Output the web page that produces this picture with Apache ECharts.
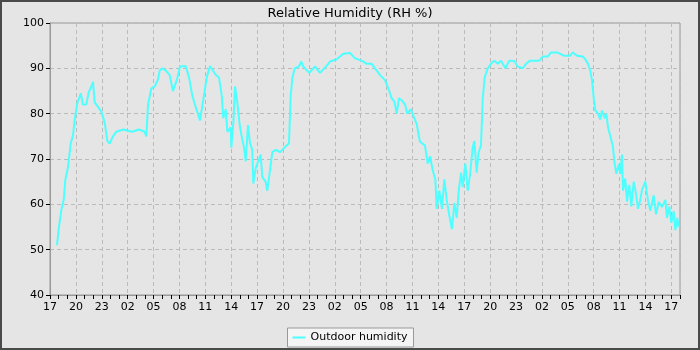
<!DOCTYPE html>
<html>
<head>
<meta charset="utf-8">
<script src="https://cdn.jsdelivr.net/npm/echarts@6/dist/echarts.min.js"></script>
<style>
  html, body { margin: 0; padding: 0; background: #e5e5e5; }
  #chart { width: 700px; height: 350px; }
</style>
</head>
<body>
<div id="chart"></div>
<script>
// hours since 17:00 on the first day
var hours = [0.81, 1.04, 1.31, 1.59, 1.77, 2.09, 2.40, 2.67, 2.86, 3.16, 3.56, 3.82, 4.21, 4.48, 4.79, 4.98,
  5.18, 5.56, 5.94, 6.34, 6.64, 6.92, 7.30, 7.68, 8.5, 9.5, 10.3, 10.97, 11.16, 11.36, 11.74, 12.13,
  12.51, 12.71, 12.98, 13.44, 13.87, 14.25, 14.37, 14.75, 15.06, 15.72, 16.11, 16.49, 16.88, 17.38,
  17.76, 18.16, 18.54, 19.20, 19.58, 19.90, 20.08, 20.36, 20.55, 20.94, 21.01, 21.24, 21.44, 21.70,
  21.98, 22.21, 22.48, 22.68, 22.94, 23.17, 23.44, 23.56, 23.84, 24.22, 24.41, 24.60, 24.99, 25.18,
  25.49, 25.76, 26.15, 26.65, 26.92, 27.31, 27.69, 27.89, 28.08, 28.35, 28.85, 29.12, 29.35, 30.05,
  30.71, 31.29, 31.98, 32.45, 33.22, 33.99, 34.76, 35.34, 36.12, 36.70, 37.28, 37.66, 38.24, 38.82,
  39.20, 39.59, 39.90, 40.17, 40.44, 40.75, 41.14, 41.40, 41.80, 42.10, 42.49, 42.87, 43.45, 43.77,
  44.03, 44.35, 44.65, 44.81, 45.11, 45.42, 45.69, 45.97, 46.27, 46.58, 46.85, 47.13, 47.36, 47.63,
  47.82, 48.12, 48.40, 48.67, 48.98, 49.17, 49.44, 49.67, 49.94, 50.14, 50.37, 50.72, 51.10, 51.48,
  51.88, 52.26, 52.76, 53.22, 53.80, 54.19, 54.77, 55.16, 55.62, 56.70, 57.09, 57.67, 58.05, 58.75,
  59.53, 60.29, 60.57, 61.07, 61.73, 62.03, 62.34, 62.61, 62.80, 63.00, 63.19, 63.50, 63.77, 63.96,
  64.28, 64.46, 64.66, 64.93, 65.20, 65.43, 65.62, 65.90, 66.08, 66.28, 66.40, 66.66, 66.86, 67.13,
  67.36, 67.64, 67.90, 68.13, 68.40, 68.60, 68.98, 69.26, 69.56, 69.95, 70.22, 70.53, 70.92, 71.30,
  71.49, 71.76, 71.99, 72.27, 72.46, 72.69, 72.85];

var humidity = [51, 55, 58.7, 61, 65.3, 68.3, 73.4, 75.3, 78.6, 82.3, 84.5, 82, 82, 84.7, 86, 87,
  82.5, 81.5, 80.5, 78, 74, 73.4, 75, 76, 76.5, 76, 76.5, 76, 75, 82, 85.6, 86,
  87.5, 89.5, 90, 89.5, 88.5, 85, 84.7, 87.8, 90.4, 90.5, 88, 84, 81.5, 78.5,
  83, 88, 90.5, 88.6, 88, 84, 79, 81, 76, 77, 72.5, 78, 86, 82.5,
  77.5, 75, 72.5, 69.5, 77.5, 73.5, 72, 64.6, 68, 70, 71, 66, 65, 63,
  67.5, 71.5, 72, 71.5, 72, 72.8, 73.4, 84, 87.8, 90, 90.4, 91.5, 90.4, 89,
  90.4, 89, 90.4, 91.5, 92, 93.2, 93.4, 92.2, 91.7, 91, 91, 90, 88.5, 87.4,
  85.6, 83.4, 82.7, 80, 83.4, 83, 82, 80, 81, 79.5, 77.7, 73.8, 73, 69,
  70.6, 67.5, 65.5, 59, 63, 59, 65.5, 61, 57.5, 54.5, 60.3, 57, 63, 67,
  63.8, 69, 63, 66.5, 72.5, 74, 67, 71.5, 73, 83.3, 88, 90, 91, 91.7,
  91, 91.7, 90, 91.7, 91.6, 90.4, 90, 91, 91.7, 91.7, 92.6, 92.6, 93.5, 93.5,
  92.8, 92.8, 93.5, 92.8, 92.6, 92, 91, 89.4, 87.4, 83.5, 80.7, 80, 78.7, 80.7,
  79, 80, 77, 75, 73, 69, 66.7, 68.8, 66.7, 71, 63, 65.7, 60.6, 64.3,
  59.5, 65, 62.3, 59, 61, 63.2, 65, 61.2, 58.6, 62, 57.8, 60.5, 59.4, 61,
  57, 59.5, 55.9, 58.5, 54.3, 57, 55];

var startHour = 17;
var seriesData = hours.map(function (h, i) { return [h, humidity[i]]; });

var chart = echarts.init(document.getElementById('chart'));
var font = 'DejaVu Sans';

var option = {
  backgroundColor: '#e5e5e5',
  animation: false,
  textStyle: { fontFamily: font },
  title: {
    text: 'Relative Humidity (RH %)',
    left: 'center',
    top: 2,
    textStyle: { fontFamily: font, fontSize: 13, fontWeight: 'normal', color: '#000' }
  },
  graphic: [{
    type: 'rect',
    z: 100,
    shape: { x: 1, y: 1, width: 698, height: 348 },
    style: { fill: 'none', stroke: '#4a4a4a', lineWidth: 2 }
  }],
  legend: {
    bottom: 3,
    left: 'center',
    data: ['Outdoor humidity'],
    icon: 'rect',
    itemWidth: 13,
    itemHeight: 2,
    itemGap: 5,
    padding: [4, 6, 4, 5],
    backgroundColor: '#f4f4f4',
    borderColor: '#999',
    borderWidth: 1,
    borderRadius: 0,
    textStyle: { fontFamily: font, fontSize: 11, color: '#000' }
  },
  grid: {
    left: 50, right: 20, top: 23, bottom: 55,
    show: true,
    borderColor: '#999',
    borderWidth: 1,
    backgroundColor: 'transparent'
  },
  xAxis: [{
    type: 'value',
    min: 0, max: 73, interval: 3,
    axisLine: { show: true, lineStyle: { color: '#999' } },
    axisTick: { show: false },
    axisLabel: {
      fontFamily: font, fontSize: 11, color: '#000', margin: 7,
      showMaxLabel: false,
      formatter: function (v) {
        if (v % 3 !== 0) return '';
        var hr = (startHour + v) % 24;
        return (hr < 10 ? '0' : '') + hr;
      }
    },
    splitLine: { show: true, lineStyle: { color: '#bbb', type: [4, 3], width: 1 } }
  }, {
    type: 'value',
    position: 'bottom',
    min: 0, max: 73, interval: 1,
    axisLine: { show: false },
    axisTick: { show: true, inside: false, length: 4, lineStyle: { color: '#000' } },
    axisLabel: { show: false },
    splitLine: { show: false }
  }],
  yAxis: {
    type: 'value',
    min: 40, max: 100, interval: 10,
    axisLine: { show: true, lineStyle: { color: '#999' } },
    axisTick: { show: true, length: 4, lineStyle: { color: '#000' } },
    axisLabel: { fontFamily: font, fontSize: 11, color: '#000', margin: 6 },
    splitLine: { show: true, lineStyle: { color: '#bbb', type: [4, 3], width: 1 } }
  },
  series: [{
    name: 'Outdoor humidity',
    type: 'line',
    xAxisIndex: 0,
    data: seriesData,
    showSymbol: false,
    symbol: 'none',
    color: '#4dffff',
    lineStyle: { color: '#4dffff', width: 2 }
  }]
};

chart.setOption(option);
</script>
</body>
</html>
